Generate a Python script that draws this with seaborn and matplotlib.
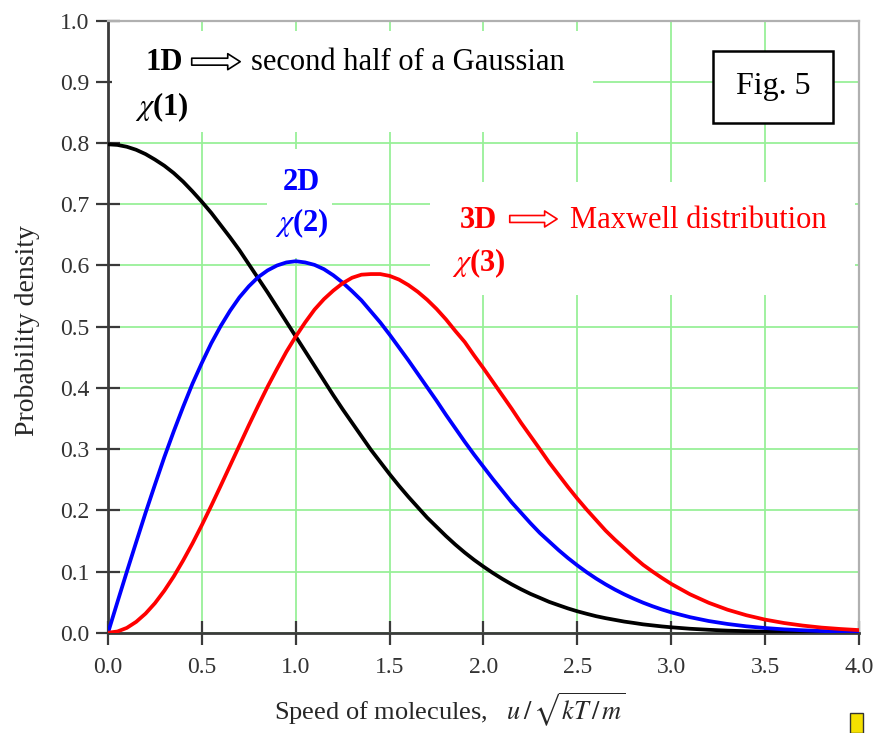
import numpy as np
import pandas as pd
import seaborn as sns
import matplotlib
matplotlib.use("Agg")
import matplotlib.pyplot as plt
from matplotlib.patches import Rectangle, FancyArrowPatch

# ---- data ----
# x: 0.00 .. 3.00 every 0.05, then 3.1 .. 4.0 every 0.1
speed = [round(0.05 * i, 2) for i in range(61)] + [round(3.0 + 0.1 * i, 1) for i in range(1, 11)]
chi1 = [0.798, 0.797, 0.794, 0.789, 0.782, 0.773, 0.763, 0.751, 0.737, 0.721,
        0.704, 0.686, 0.666, 0.646, 0.625, 0.602, 0.579, 0.556, 0.532, 0.508,
        0.484, 0.460, 0.436, 0.412, 0.388, 0.365, 0.343, 0.321, 0.299, 0.279,
        0.259, 0.240, 0.222, 0.205, 0.188, 0.173, 0.158, 0.144, 0.131, 0.119,
        0.108, 0.0976, 0.088, 0.0791, 0.071, 0.0635, 0.057, 0.0504, 0.045, 0.0397,
        0.035, 0.0309, 0.027, 0.0238, 0.021, 0.0182, 0.016, 0.0137, 0.012, 0.0103,
        0.0089,
        0.0065, 0.0048, 0.0034, 0.0025, 0.0017, 0.0012, 0.0009, 0.0006, 0.0004, 0.0003]
chi2 = [0.0, 0.050, 0.0995, 0.148, 0.196, 0.242, 0.287, 0.329, 0.369, 0.407,
        0.441, 0.473, 0.501, 0.526, 0.548, 0.566, 0.581, 0.592, 0.600, 0.605,
        0.607, 0.605, 0.601, 0.594, 0.584, 0.572, 0.558, 0.543, 0.525, 0.507,
        0.487, 0.466, 0.445, 0.423, 0.401, 0.379, 0.356, 0.334, 0.312, 0.291,
        0.271, 0.251, 0.232, 0.213, 0.196, 0.179, 0.163, 0.149, 0.135, 0.122,
        0.110, 0.0988, 0.0885, 0.0791, 0.0705, 0.0627, 0.0556, 0.0491, 0.0433, 0.0380,
        0.0333,
        0.0254, 0.0191, 0.0143, 0.0105, 0.0077, 0.0055, 0.0040, 0.0028, 0.0020, 0.0013]
chi3 = [0.0, 0.0020, 0.0079, 0.0178, 0.0313, 0.0483, 0.0687, 0.0919, 0.118, 0.146,
        0.176, 0.2075, 0.240, 0.273, 0.306, 0.339, 0.371, 0.402, 0.431, 0.459,
        0.484, 0.507, 0.528, 0.545, 0.559, 0.571, 0.580, 0.585, 0.586, 0.586,
        0.583, 0.577, 0.568, 0.557, 0.544, 0.529, 0.512, 0.493, 0.475, 0.453,
        0.432, 0.410, 0.388, 0.366, 0.343, 0.3215, 0.300, 0.278, 0.258, 0.238,
        0.219, 0.201, 0.184, 0.167, 0.152, 0.138, 0.124, 0.111, 0.100, 0.0896,
        0.0798,
        0.0628, 0.0489, 0.0376, 0.0286, 0.0214, 0.0159, 0.0117, 0.0084, 0.0061, 0.0043]
series_names = ["χ(1)", "χ(2)", "χ(3)"]
series_colors = ["#000000", "#0000ff", "#ff0000"]
x_ticks = [0.0, 0.5, 1.0, 1.5, 2.0, 2.5, 3.0, 3.5, 4.0]
y_ticks = [0.0, 0.1, 0.2, 0.3, 0.4, 0.5, 0.6, 0.7, 0.8, 0.9, 1.0]

n = len(speed)
df = pd.DataFrame({
    "speed": speed * 3,
    "density": chi1 + chi2 + chi3,
    "series": [series_names[0]] * n + [series_names[1]] * n + [series_names[2]] * n,
})

sns.set_style("white")
plt.rcParams["font.family"] = ["Liberation Serif", "DejaVu Serif"]
plt.rcParams["mathtext.fontset"] = "stix"

fig = plt.figure(figsize=(8.74, 7.33), dpi=100)
ax = fig.add_axes([0.1236, 0.1368, 0.8592, 0.835])

sns.lineplot(data=df, x="speed", y="density", hue="series",
             palette=dict(zip(series_names, series_colors)),
             linewidth=2.7, legend=False, ax=ax, zorder=5, sort=False)
for ln in ax.lines:
    ln.set_solid_joinstyle("round")
    ln.set_solid_capstyle("round")

ax.set_xlim(0, 4.0)
ax.set_ylim(0, 1.0)
ax.set_xticks(x_ticks)
ax.set_yticks(y_ticks)
ax.set_xticklabels([f"{v:.1f}" for v in x_ticks])
ax.set_yticklabels([f"{v:.1f}" for v in y_ticks])
ax.grid(True, color="#98f098", linewidth=1.3, zorder=0)
ax.set_axisbelow(True)

ax.tick_params(axis="both", which="major", bottom=True, left=True, top=False, right=False,
               direction="inout", length=17, width=1.6,
               color="#3a3a3a", labelsize=17, labelcolor="#333333")
ax.tick_params(axis="x", pad=9)
ax.tick_params(axis="y", pad=5)
for side in ["left", "bottom"]:
    ax.spines[side].set_color("#3a3a3a")
    ax.spines[side].set_linewidth(2.0)
for side in ["top", "right"]:
    ax.spines[side].set_color("#b0b0b0")
    ax.spines[side].set_linewidth(1.6)

ax.set_xlabel(r"Speed of molecules,   $u\,/\,\sqrt{kT\,/\,m}$", fontsize=19)
ax.xaxis.set_label_coords(0.455, -0.095)
ax.xaxis.label.set_va("top")
ax.set_ylabel("Probability density", fontsize=20)
ax.yaxis.set_label_coords(-0.09, 0.493)

# white boxes behind annotations (hide grid)
for (x0, x1, y0, y1) in [(0.02, 2.583, 0.818, 0.983),
                         (0.847, 1.193, 0.612, 0.79),
                         (1.715, 3.98, 0.552, 0.736)]:
    ax.add_patch(Rectangle((x0, y0), x1 - x0, y1 - y0, facecolor="white",
                           edgecolor="none", zorder=1))

fs = 22

def hollow_arrow(x0, x1, y, color):
    ax.add_patch(FancyArrowPatch((x0, y), (x1, y),
                                 arrowstyle="simple,head_length=0.9,head_width=1.15,tail_width=0.5",
                                 mutation_scale=10, facecolor="white", edgecolor=color,
                                 linewidth=1.2, zorder=6))

# 1D
ax.text(0.197, 0.931, "1D", fontsize=fs, fontweight="bold", color="black",
        ha="left", va="center", zorder=6)
hollow_arrow(0.431, 0.719, 0.933, "black")
ax.text(0.762, 0.931, "second half of a Gaussian", fontsize=fs, color="black",
        ha="left", va="center", zorder=6)
ax.text(0.144, 0.859, r"$\chi$(1)", fontsize=fs, fontweight="bold", color="black",
        ha="left", va="center", zorder=6)

# 2D
ax.text(1.028, 0.736, "2D", fontsize=fs, fontweight="bold", color="#0000ff",
        ha="center", va="center", zorder=6)
ax.text(1.031, 0.669, r"$\chi$(2)", fontsize=fs, fontweight="bold", color="#0000ff",
        ha="center", va="center", zorder=6)

# 3D
ax.text(1.875, 0.674, "3D", fontsize=fs, fontweight="bold", color="#ff0000",
        ha="left", va="center", zorder=6)
hollow_arrow(2.125, 2.407, 0.676, "#ff0000")
ax.text(2.461, 0.674, "Maxwell distribution", fontsize=fs, color="#ff0000",
        ha="left", va="center", zorder=6)
ax.text(1.832, 0.604, r"$\chi$(3)", fontsize=fs, fontweight="bold", color="#ff0000",
        ha="left", va="center", zorder=6)

# Fig. 5 box
ax.add_patch(Rectangle((3.222, 0.8328), 3.861 - 3.222, 0.9505 - 0.8328,
                       facecolor="white", edgecolor="black", linewidth=1.8, zorder=6))
ax.text((3.222 + 3.861) / 2, (0.8328 + 0.9505) / 2, "Fig. 5", fontsize=23,
        color="black", ha="center", va="center", zorder=7)

# small yellow icon at bottom right
fig.patches.append(Rectangle((850 / 874, 0.0), 13 / 874, 20 / 733,
                             transform=fig.transFigure, facecolor="#f5e000",
                             edgecolor="#333333", linewidth=1.0))

fig.savefig("out.png", dpi=100)
